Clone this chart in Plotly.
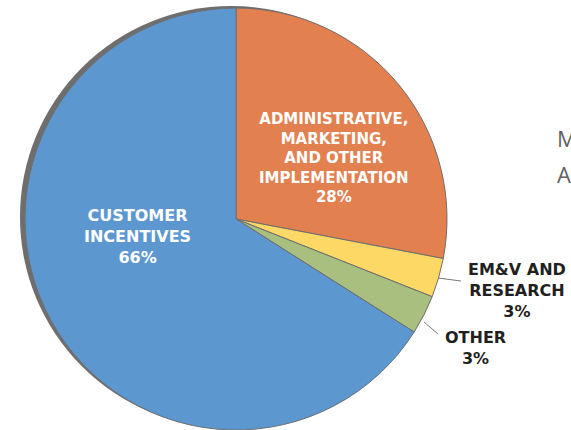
import plotly.graph_objects as go

# Budget shares by spending category (percent)
categories = [
    "ADMINISTRATIVE,<br>MARKETING,<br>AND OTHER<br>IMPLEMENTATION",
    "EM&V AND<br>RESEARCH",
    "OTHER",
    "CUSTOMER<br>INCENTIVES",
]
shares = [28, 3, 3, 66]
colors = ["#E3804F", "#FDD865", "#A9BF7F", "#5C97D0"]

W, H = 571, 430


def px_x(x):
    return x / W


def px_y(y):
    return (H - y) / H


def domain(cx, cy, r):
    return dict(x=[px_x(cx - r), px_x(cx + r)], y=[px_y(cy + r), px_y(cy - r)])


R = 211
CX, CY = 236, 219

fig = go.Figure()

# soft grey rim behind the pie, offset up and to the left
fig.add_trace(go.Pie(
    values=[1],
    marker=dict(colors=["#6E6E6E"], line=dict(width=0)),
    textinfo="none",
    hoverinfo="skip",
    sort=False,
    domain=domain(CX - 5, CY - 2, R),
    showlegend=False,
))

fig.add_trace(go.Pie(
    labels=categories,
    values=shares,
    marker=dict(colors=colors, line=dict(color="#6F6F6F", width=1)),
    sort=False,
    direction="clockwise",
    rotation=0,
    textinfo="none",
    hoverinfo="label+percent",
    domain=domain(CX, CY, R),
    showlegend=False,
))

# label placement: (x, y, font size, colour)
label_style = [
    (334, 158, 15, "white"),
    (517, 290, 16, "#231F20"),
    (475, 348, 16, "#231F20"),
    (137, 237, 16, "white"),
]

annotations = []
for name, val, (x, y, size, col) in zip(categories, shares, label_style):
    annotations.append(dict(
        x=px_x(x), y=px_y(y), xref="paper", yref="paper",
        text=f"{name}<br>{val}%", showarrow=False,
        xanchor="center", yanchor="middle", align="center",
        font=dict(family="DejaVu Sans", size=size, color=col, weight="bold"),
    ))

# neighbouring slide text running off the right edge
for txt, y in [("M", 138), ("A", 174)]:
    annotations.append(dict(
        x=px_x(555), y=px_y(y), xref="paper", yref="paper",
        text=txt, showarrow=False, xanchor="left", yanchor="middle",
        font=dict(family="Open Sans", size=22, color="#606060"),
    ))

# leader lines for the two thin slices
leaders = [((438, 278), (461, 281)), ((424, 322), (438, 334))]
shapes = [
    dict(type="line", xref="paper", yref="paper",
         x0=px_x(a[0]), y0=px_y(a[1]), x1=px_x(b[0]), y1=px_y(b[1]),
         line=dict(color="#7A7A7A", width=1))
    for a, b in leaders
]

fig.update_layout(
    width=W, height=H,
    margin=dict(l=0, r=0, t=0, b=0),
    paper_bgcolor="white",
    plot_bgcolor="white",
    annotations=annotations,
    shapes=shapes,
)

fig.write_html("out.html")
